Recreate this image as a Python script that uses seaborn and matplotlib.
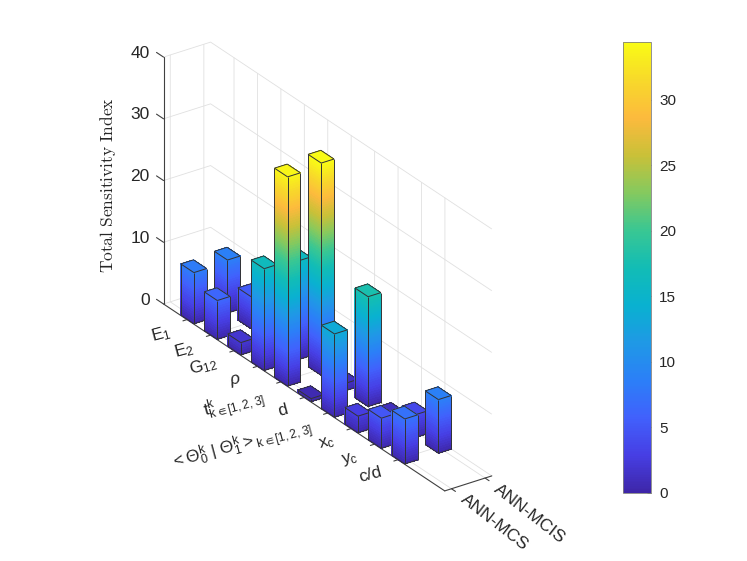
import numpy as np
import matplotlib
matplotlib.use("Agg")
import matplotlib.pyplot as plt
import seaborn as sns
from matplotlib.colors import Normalize
from matplotlib.cm import ScalarMappable
from mpl_toolkits.mplot3d import proj3d
from mpl_toolkits.mplot3d.art3d import Poly3DCollection, Line3DCollection

# === data ===
categories = [r"$\mathrm{E}_{1}$", r"$\mathrm{E}_{2}$", r"$\mathrm{G}_{12}$", r"$\rho$",
              r"$\mathrm{t}^{\mathrm{k}}_{\mathrm{k}\in[1,2,3]}$", "d",
              r"$<\Theta^{\mathrm{k}}_{0}\ |\ \Theta^{\mathrm{k}}_{1}>_{\mathrm{k}\in[1,2,3]}$",
              r"$\mathrm{x}_{\mathrm{c}}$", r"$\mathrm{y}_{\mathrm{c}}$", "c/d"]
series = ["ANN-MCS", "ANN-MCIS"]
ann_mcs = [8.3, 6.3, 2.0, 16.5, 33.9, 0.5, 13.5, 2.7, 4.9, 7.3]
ann_mcis = [8.6, 5.2, 1.5, 16.0, 34.4, 1.2, 17.8, 1.1, 3.7, 8.7]
z_ticks = [0, 10, 20, 30, 40]
cbar_ticks = [0, 5, 10, 15, 20, 25, 30]

# parula-like anchors
parula_anchors = [(0.2422, 0.1504, 0.6603), (0.2770, 0.2450, 0.8950), (0.2550, 0.3800, 0.9900),
                  (0.1700, 0.5000, 0.9700), (0.1200, 0.6000, 0.9000), (0.0350, 0.6950, 0.8150),
                  (0.0700, 0.7400, 0.7100), (0.2250, 0.7800, 0.5750), (0.5200, 0.7900, 0.3700),
                  (0.7900, 0.7550, 0.2200), (0.9900, 0.7300, 0.2400), (0.9700, 0.8500, 0.1650),
                  (0.9769, 0.9839, 0.0805)]

sns.set_theme(style="white")
plt.rcParams.update({
    "font.family": ["Liberation Sans", "DejaVu Sans"],
    "mathtext.fontset": "custom",
    "mathtext.rm": "Liberation Sans",
    "mathtext.it": "Liberation Sans:italic",
    "mathtext.bf": "Liberation Sans:bold",
    "mathtext.sf": "Liberation Sans",
    "mathtext.fallback": "stixsans",
    "grid.color": "#e0e0e0",
    "grid.linewidth": 0.6,
})
parula = sns.blend_palette(parula_anchors, n_colors=256, as_cmap=True)
norm = Normalize(0, max(ann_mcs + ann_mcis))

W, H = 747, 561
fig = plt.figure(figsize=(W / 100, H / 100), dpi=100)
ax = fig.add_axes([0, 0, 1, 1], projection="3d", computed_zorder=False)
ax.set_proj_type("ortho")
ax.view_init(elev=27.4, azim=-34.7)
x_lim, y_lim, z_lim = (0, 12), (0.8, 2.2), (0, 40)
ax.set_xlim(*x_lim)
ax.set_ylim(*y_lim)
ax.set_zlim(*z_lim)
ax.set_box_aspect((492, 57, 277))
ax.set_xticks(range(1, len(categories) + 1))
ax.set_yticks(range(1, len(series) + 1))
ax.set_zticks(z_ticks)
ax.set_xticklabels([])
ax.set_yticklabels([])
ax.set_zticklabels([])
ax.grid(True)
for a in (ax.xaxis, ax.yaxis, ax.zaxis):
    a.line.set_color((1, 1, 1, 0))
    a.pane.set_facecolor((1, 1, 1, 0))
    a.pane.set_edgecolor((1, 1, 1, 0))
    a.set_tick_params(color=(1, 1, 1, 0))

# === axis lines and tick marks (MATLAB style) ===
axis_col = "0.25"
x0, x1 = x_lim
y0, y1 = y_lim
ax.plot([x0, x0], [y0, y0], z_lim, color=axis_col, lw=0.8, zorder=1)
ax.plot([x0, x1], [y0, y0], [0, 0], color=axis_col, lw=0.8, zorder=1)
ax.plot([x1, x1], [y0, y1], [0, 0], color=axis_col, lw=0.8, zorder=1)
for z in z_ticks:
    ax.plot([x0, x0 - 0.3], [y0, y0], [z, z], color=axis_col, lw=0.8, zorder=1)
for i in range(1, len(categories) + 1):
    ax.plot([i, i], [y0, y0 - 0.12], [0, 0], color=axis_col, lw=0.8, zorder=1)
for j in range(1, len(series) + 1):
    ax.plot([x1, x1 + 0.17], [j, j], [0, 0], color=axis_col, lw=0.8, zorder=1)

# === 3D bars with height-interpolated colour ===
dx, dy, step = 0.56, 0.38, 0.4
bars = [(i + 1, 1, v) for i, v in enumerate(ann_mcs)] + [(i + 1, 2, v) for i, v in enumerate(ann_mcis)]
bars.sort(key=lambda b: b[0] - 0.69 * b[1])  # far to near

for x, y, h in bars:
    xa, xb, ya, yb = x - dx / 2, x + dx / 2, y - dy / 2, y + dy / 2
    levels = np.linspace(0, h, max(2, int(np.ceil(h / step)) + 1))
    quads, zmid = [], []
    for za, zb in zip(levels[:-1], levels[1:]):
        quads.append([(xb, ya, za), (xb, yb, za), (xb, yb, zb), (xb, ya, zb)])
        quads.append([(xa, ya, za), (xb, ya, za), (xb, ya, zb), (xa, ya, zb)])
        zmid += [(za + zb) / 2] * 2
    quads.append([(xa, ya, h), (xb, ya, h), (xb, yb, h), (xa, yb, h)])
    zmid.append(h)
    cols = parula(norm(np.array(zmid)))
    ax.add_collection3d(Poly3DCollection(quads, facecolors=cols, edgecolors="none",
                                         linewidths=0, antialiased=False, zorder=1))
    edges = [[(xb, ya, 0), (xb, ya, h)], [(xa, ya, 0), (xa, ya, h)], [(xb, yb, 0), (xb, yb, h)],
             [(xa, ya, h), (xb, ya, h)], [(xb, ya, h), (xb, yb, h)],
             [(xb, yb, h), (xa, yb, h)], [(xa, yb, h), (xa, ya, h)],
             [(xa, ya, 0), (xb, ya, 0)], [(xb, ya, 0), (xb, yb, 0)]]
    ax.add_collection3d(Line3DCollection(edges, colors="0.2", linewidths=0.7, zorder=1))

# === fit the 3D box onto the reference frame ===
fig.canvas.draw()
frame = np.array([[x0, y0, 0], [x0, y0, 40], [x1, y0, 0], [x1, y1, 0], [x0, y1, 40], [x1, y1, 40]])
frame_px = np.array([[162, 306], [162, 58], [445, 492], [492, 473], [212, 43], [493, 227]], dtype=float)
px, py, _ = proj3d.proj_transform(frame[:, 0], frame[:, 1], frame[:, 2], ax.M)
disp = ax.transData.transform(np.column_stack([px, py]))
bb = ax.get_position().transformed(fig.transFigure)
c0 = np.array([bb.x0 + bb.width / 2, bb.y0 + bb.height / 2])
q = (disp - c0) / bb.width
A = np.zeros((12, 3))
b = np.zeros(12)
A[0::2, 0], A[0::2, 1], b[0::2] = q[:, 0], 1, frame_px[:, 0]
A[1::2, 0], A[1::2, 2], b[1::2] = q[:, 1], 1, H - frame_px[:, 1]
s, cx, cy = np.linalg.lstsq(A, b, rcond=None)[0]
ax.set_position([(cx - s / 2) / W, (cy - s / 2) / H, s / W, s / H])
fig.canvas.draw()


def fig_xy(x, y, z):
    """Project a data point of the 3D axes to figure fraction."""
    px, py, _ = proj3d.proj_transform(np.atleast_1d(x), np.atleast_1d(y), np.atleast_1d(z), ax.M)
    d = ax.transData.transform(np.column_stack([px, py]))
    return fig.transFigure.inverted().transform(d)[0]


# === tick labels placed at the projected tick positions ===
txt = dict(fontsize=12.5, color="0.15")
for z in z_ticks:
    fx, fy = fig_xy(x0, y0, z)
    fig.text(fx - 14 / W, fy + 4 / H, str(z), ha="right", va="center", **txt)
for i, lab in enumerate(categories, start=1):
    fx, fy = fig_xy(i, y0, 0)
    fig.text(fx - 17 / W, fy - 10 / H, lab, rotation=15, rotation_mode="anchor",
             ha="right", va="center_baseline", **txt)
for j, lab in enumerate(series, start=1):
    fx, fy = fig_xy(x1, j, 0)
    fig.text(fx + 11 / W, fy - 9 / H, lab, rotation=-38, rotation_mode="anchor",
             ha="left", va="center", **txt)

fig.text(108 / W, 1 - 185.5 / H, r"$\mathrm{Total\ Sensitivity\ Index}$", rotation=90,
         ha="center", va="center", fontsize=12.5, color="0.15", math_fontfamily="cm")

# === colorbar ===
cax = fig.add_axes([623 / W, 68 / H, 28 / W, 451 / H])
cb = fig.colorbar(ScalarMappable(norm=norm, cmap=parula), cax=cax, ticks=cbar_ticks)
cb.outline.set_edgecolor("0.5")
cb.outline.set_linewidth(0.6)
cax.tick_params(direction="in", length=3, width=0.6, color="0.3", labelsize=11,
                labelcolor="0.15", pad=6)

fig.savefig("out.png", dpi=100)
